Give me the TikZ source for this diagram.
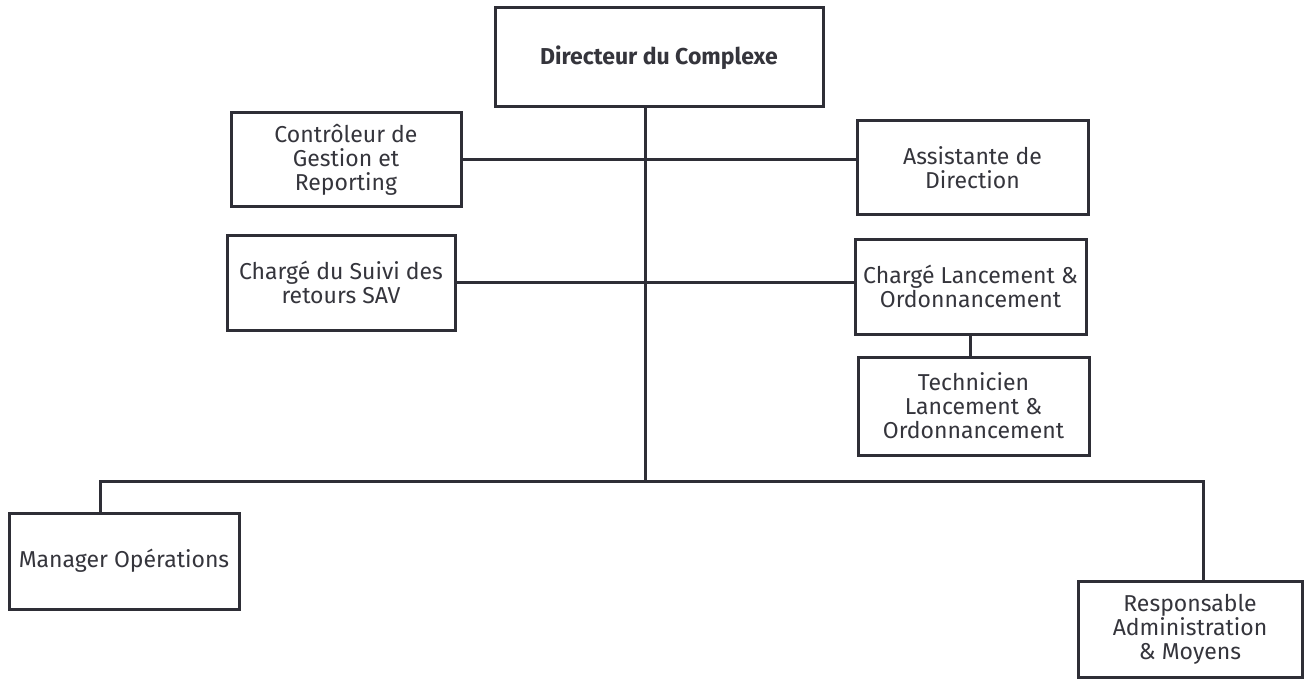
\documentclass[tikz,border=0pt]{standalone}
\usepackage{fontspec}
\setmainfont{Fira Sans}
\begin{document}
\begin{tikzpicture}[x=1pt,y=-1pt,
  box/.style={draw=linegray, line width=3pt, fill=white, align=center,
    text=textgray, inner sep=0pt, font=\fontsize{23}{24}\selectfont},
  link/.style={draw=linegray, line width=3pt}]
\definecolor{linegray}{HTML}{2E2E36}
\definecolor{textgray}{HTML}{35353C}
\useasboundingbox (0,0) rectangle (1306,679);
\fill[white] (0,0) rectangle (1306,679);

% reporting boxes
\node[box, minimum width=328pt, minimum height=99pt, font=\fontsize{23}{24}\selectfont\bfseries] (dir) at (659,57.5) {Directeur du Complexe};
\node[box, minimum width=230pt, minimum height=94pt] (ctrl) at (346,160) {Contrôleur de\\Gestion et\\Reporting};
\node[box, minimum width=231pt, minimum height=94pt] (asst) at (972.5,168) {Assistante de\\Direction};
\node[box, minimum width=228pt, minimum height=95pt] (suivi) at (341,282.5) {Chargé du Suivi des\\retours SAV};
\node[box, minimum width=231pt, minimum height=95pt] (lanc) at (970.5,286.5) {Chargé Lancement \&\\Ordonnancement};
\node[box, minimum width=231pt, minimum height=98pt] (tech) at (973.5,406) {Technicien\\Lancement \&\\Ordonnancement};
\node[box, minimum width=230pt, minimum height=96pt] (mgr) at (124,561) {Manager Opérations};
\node[box, minimum width=224pt, minimum height=96pt] (resp) at (1190,629) {Responsable\\Administration\\\& Moyens};

% bus coordinates
\coordinate (bus) at (645,481);
\coordinate (busL) at (100,481);
\coordinate (busR) at (1203,481);

% connectors
\draw[link] (dir.south -| bus) -- (bus);
\draw[link] (ctrl.east) -- (ctrl.east -| asst.west);
\draw[link] (suivi.east) -- (suivi.east -| lanc.west);
\draw[link] (lanc.south) -- (lanc.south |- tech.north);
\draw[link] (busL |- mgr.north) -- (busL) -- (busR) -- (busR |- resp.north);
\end{tikzpicture}
\end{document}
